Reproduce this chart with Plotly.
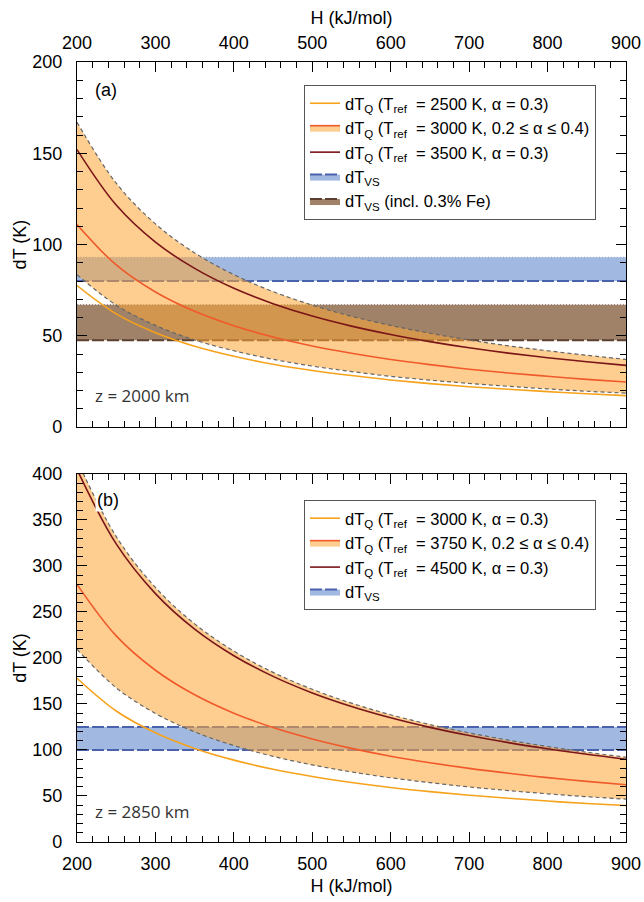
import plotly.graph_objects as go
from plotly.subplots import make_subplots

# ---------------- data ----------------
H = [200, 250, 300, 350, 400, 450, 500, 550, 600, 650, 700, 750, 800, 850, 900]

# panel (a), z = 2000 km
a_q2500 = [77.5, 62.0, 51.7, 44.3, 38.8, 34.4, 31.0, 28.2, 25.8, 23.8, 22.1, 20.7, 19.4, 18.2, 17.2]
a_q3000 = [111, 88.8, 74.0, 63.4, 55.5, 49.3, 44.4, 40.4, 37.0, 34.2, 31.7, 29.6, 27.8, 26.1, 24.7]
a_q3000_hi = [167, 133.6, 111.3, 95.4, 83.5, 74.2, 66.8, 60.7, 55.7, 51.4, 47.7, 44.5, 41.8, 39.3, 37.1]
a_q3000_lo = [83.5, 66.8, 55.7, 47.7, 41.8, 37.1, 33.4, 30.4, 27.8, 25.7, 23.9, 22.3, 20.9, 19.6, 18.6]
a_q3500 = [152, 121.6, 101.3, 86.9, 76.0, 67.6, 60.8, 55.3, 50.7, 46.8, 43.4, 40.5, 38.0, 35.8, 33.8]
a_vs = [80, 93]
a_vs_fe = [47.5, 67]

# panel (b), z = 2850 km
b_q3000 = [178, 142.4, 118.7, 101.7, 89.0, 79.1, 71.2, 64.7, 59.3, 54.8, 50.9, 47.5, 44.5, 41.9, 39.6]
b_q3750 = [280, 224, 186.7, 160, 140, 124.4, 112, 101.8, 93.3, 86.2, 80.0, 74.7, 70.0, 65.9, 62.2]
b_q3750_hi = [415, 332, 276.7, 237.1, 207.5, 184.4, 166, 150.9, 138.3, 127.7, 118.6, 110.7, 103.8, 97.6, 92.2]
b_q3750_lo = [209.5, 167.6, 139.7, 119.7, 104.8, 93.1, 83.8, 76.2, 69.8, 64.5, 59.9, 55.9, 52.4, 49.3, 46.6]
b_q4500 = [405, 324, 270, 231.4, 202.5, 180, 162, 147.3, 135, 124.6, 115.7, 108, 101.3, 95.3, 90.0]
b_vs = [100, 125]

H_range = [200, 900]

# ---------------- styles ----------------
C_Q_LO = "#f7a21b"
C_Q_MID = "#f0592a"
C_Q_HI = "#7a1518"
C_BAND = "rgba(253,166,56,0.553)"
C_EDGE = "#666666"
C_BLUE = "#a1b9e0"
C_BLUE_LINE = "#4a62ad"
C_BROWN = "#a08269"
C_BROWN_LINE = "#5b4030"
FONT = "Liberation Sans"

fig = make_subplots(rows=2, cols=1, vertical_spacing=0.06)


def add_panel(row, legend, q_lo, q_mid, q_hi, band_lo, band_hi, labels, vs, vs_fe=None,
              vs_top_dotted=True):
    xa = H_range
    # dT_VS band
    fig.add_trace(go.Scatter(x=xa, y=[vs[1], vs[1]], mode="lines",
                             line=dict(color="#8fa0c8" if vs_top_dotted else C_BLUE_LINE,
                                       width=1 if vs_top_dotted else 2,
                                       dash="1px,2px" if vs_top_dotted else "12px,3px"),
                             showlegend=False, hoverinfo="skip", legend=legend), row=row, col=1)
    fig.add_trace(go.Scatter(x=xa, y=[vs[0], vs[0]], mode="lines", fill="tonexty",
                             fillcolor=C_BLUE,
                             line=dict(color=C_BLUE_LINE, width=2, dash="12px,3px"),
                             name=labels[3], legendrank=4, legend=legend), row=row, col=1)
    if vs_fe is not None:
        fig.add_trace(go.Scatter(x=xa, y=[vs_fe[1], vs_fe[1]], mode="lines",
                                 line=dict(color="#8a7a70", width=1, dash="1px,2px"),
                                 showlegend=False, hoverinfo="skip", legend=legend), row=row, col=1)
        fig.add_trace(go.Scatter(x=xa, y=[vs_fe[0], vs_fe[0]], mode="lines", fill="tonexty",
                                 fillcolor=C_BROWN,
                                 line=dict(color=C_BROWN_LINE, width=2, dash="12px,3px"),
                                 name=labels[4], legendrank=5, legend=legend), row=row, col=1)
    # dT_Q band (alpha range) with central line
    fig.add_trace(go.Scatter(x=H, y=band_lo, mode="lines", line_shape="spline",
                             line=dict(color=C_EDGE, width=1.2, dash="4px,3px"),
                             showlegend=False, hoverinfo="skip", legend=legend), row=row, col=1)
    fig.add_trace(go.Scatter(x=H, y=q_mid, mode="lines", line_shape="spline", fill="tonexty",
                             fillcolor=C_BAND, line=dict(color=C_Q_MID, width=1.6),
                             name=labels[1], legendrank=2, legend=legend), row=row, col=1)
    fig.add_trace(go.Scatter(x=H, y=band_hi, mode="lines", line_shape="spline", fill="tonexty",
                             fillcolor=C_BAND,
                             line=dict(color=C_EDGE, width=1.2, dash="4px,3px"),
                             showlegend=False, hoverinfo="skip", legend=legend), row=row, col=1)
    # single lines
    fig.add_trace(go.Scatter(x=H, y=q_lo, mode="lines", line_shape="spline",
                             line=dict(color=C_Q_LO, width=1.6),
                             name=labels[0], legendrank=1, legend=legend), row=row, col=1)
    fig.add_trace(go.Scatter(x=H, y=q_hi, mode="lines", line_shape="spline",
                             line=dict(color=C_Q_HI, width=1.6),
                             name=labels[2], legendrank=3, legend=legend), row=row, col=1)


labels_a = [
    "dT<sub>Q</sub> (T<sub>ref</sub>  = 2500 K, α = 0.3)",
    "dT<sub>Q</sub> (T<sub>ref</sub>  = 3000 K, 0.2 ≤ α ≤ 0.4)",
    "dT<sub>Q</sub> (T<sub>ref</sub>  = 3500 K, α = 0.3)",
    "dT<sub>VS</sub>",
    "dT<sub>VS</sub> (incl. 0.3% Fe)",
]
labels_b = [
    "dT<sub>Q</sub> (T<sub>ref</sub>  = 3000 K, α = 0.3)",
    "dT<sub>Q</sub> (T<sub>ref</sub>  = 3750 K, 0.2 ≤ α ≤ 0.4)",
    "dT<sub>Q</sub> (T<sub>ref</sub>  = 4500 K, α = 0.3)",
    "dT<sub>VS</sub>",
]

add_panel(1, "legend", a_q2500, a_q3000, a_q3500, a_q3000_lo, a_q3000_hi, labels_a,
          a_vs, a_vs_fe, vs_top_dotted=True)
add_panel(2, "legend2", b_q3000, b_q3750, b_q4500, b_q3750_lo, b_q3750_hi, labels_b,
          b_vs, None, vs_top_dotted=False)

axis_common = dict(showline=True, linecolor="black", linewidth=1.3, mirror="ticks",
                   ticks="inside", ticklen=10, tickwidth=1.2, tickcolor="black",
                   showgrid=False, zeroline=False, automargin=False,
                   tickfont=dict(family=FONT, size=18, color="black"),
                   title_font=dict(family=FONT, size=18, color="black"))

fig.update_xaxes(**axis_common, range=H_range, dtick=100, tick0=200,
                 minor=dict(ticks="inside", ticklen=6, dtick=20, tickwidth=1, tickcolor="black"))
fig.update_yaxes(**axis_common, dtick=50, tick0=0,
                 minor=dict(ticks="inside", ticklen=6, dtick=10, tickwidth=1, tickcolor="black"))

fig.update_xaxes(row=1, col=1, side="top", title_text="H (kJ/mol)", title_standoff=3,
                 ticklabelstandoff=5)
fig.update_xaxes(row=2, col=1, side="bottom", title_text="H (kJ/mol)", title_standoff=6,
                 ticklabelstandoff=5, matches="x")
fig.update_yaxes(row=1, col=1, range=[0, 200], title_text="dT (K)", title_standoff=0,
                 ticklabelstandoff=10)
fig.update_yaxes(row=2, col=1, range=[0, 400], title_text="dT (K)", title_standoff=0,
                 ticklabelstandoff=10)

fig.update_layout(
    width=644, height=902,
    margin=dict(l=77, r=18, t=62, b=60, autoexpand=False),
    plot_bgcolor="white", paper_bgcolor="white",
    yaxis=dict(domain=[0.532, 1.0]),
    yaxis2=dict(domain=[0.0, 0.4718]),
    legend=dict(x=0.4135, y=0.9705, xanchor="left", yanchor="top",
                bgcolor="white", bordercolor="#555555", borderwidth=1,
                font=dict(family=FONT, size=16.5, color="black"), itemwidth=30,
                traceorder="normal", tracegroupgap=0),
    legend2=dict(x=0.4135, y=0.4385, xanchor="left", yanchor="top",
                 bgcolor="white", bordercolor="#555555", borderwidth=1,
                 font=dict(family=FONT, size=16.5, color="black"), itemwidth=30,
                 traceorder="normal", tracegroupgap=0),
    showlegend=True,
)

ann_font = dict(family=FONT, size=18, color="black")
z_font = dict(family="Open Sans", size=17, color="#333333")
fig.add_annotation(text="(a)", xref="x domain", yref="y domain", x=0.03, y=0.923,
                   xanchor="left", yanchor="middle", showarrow=False, font=ann_font)
fig.add_annotation(text="z = 2000 km", xref="x domain", yref="y domain", x=0.03, y=0.087,
                   xanchor="left", yanchor="middle", showarrow=False, font=z_font)
fig.add_annotation(text="(b)", xref="x2 domain", yref="y2 domain", x=0.033, y=0.929,
                   xanchor="left", yanchor="middle", showarrow=False, font=ann_font,
                   bgcolor="white")
fig.add_annotation(text="z = 2850 km", xref="x2 domain", yref="y2 domain", x=0.03, y=0.083,
                   xanchor="left", yanchor="middle", showarrow=False, font=z_font)

fig.write_html("out.html", config={"displayModeBar": False},
               post_script="document.body.style.margin='0';document.body.style.overflow='hidden';")
